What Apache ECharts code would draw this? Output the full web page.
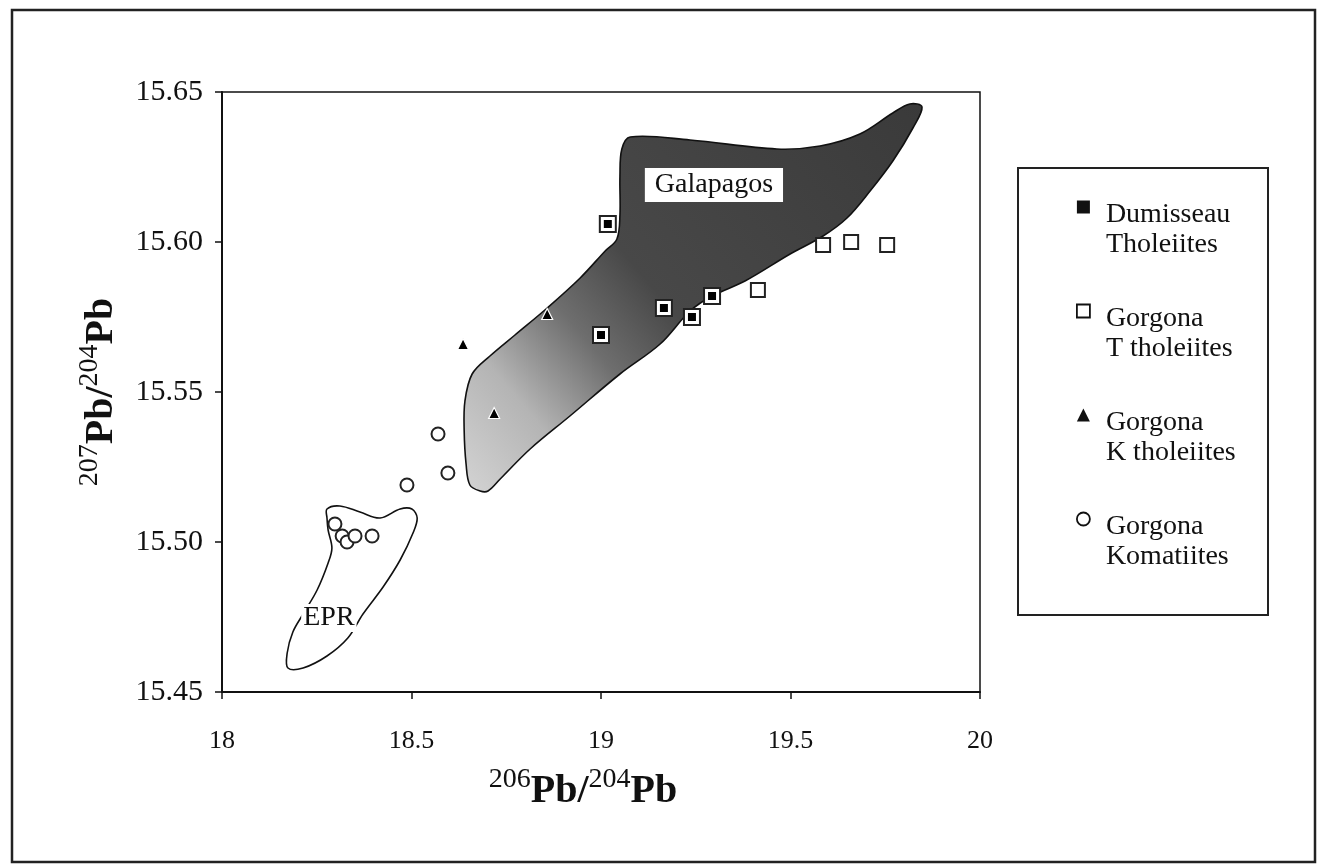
<!DOCTYPE html>
<html>
<head>
<meta charset="utf-8">
<script src="https://cdn.jsdelivr.net/npm/echarts@6/dist/echarts.min.js"></script>
</head>
<body style="margin:0;background:#fff">
<div id="main" style="width:1320px;height:865px;"></div>
<script>
// 206Pb/204Pb , 207Pb/204Pb
var dumisseau = [[19.018,15.606],[19.166,15.578],[19.293,15.582],[19.240,15.575],[19.000,15.569]];
var gorgonaT = [[19.586,15.599],[19.660,15.600],[19.755,15.599],[19.414,15.584]];
var gorgonaK = [[18.858,15.576],[18.636,15.566],[18.718,15.543]];
var komatiites = [[18.570,15.536],[18.596,15.523],[18.488,15.519],[18.298,15.506],[18.317,15.502],
  [18.330,15.500],[18.351,15.502],[18.396,15.502]];

// outline of the fields
var galapagos = [[18.681,15.517],[18.654,15.519],[18.644,15.526],[18.639,15.537],[18.641,15.547],
  [18.660,15.556],[18.707,15.562],[18.773,15.569],[18.858,15.578],[18.945,15.588],[19.011,15.597],
  [19.042,15.601],[19.050,15.609],[19.050,15.622],[19.055,15.631],[19.077,15.635],[19.235,15.634],
  [19.464,15.631],[19.578,15.632],[19.683,15.636],[19.770,15.643],[19.815,15.646],[19.847,15.645],
  [19.823,15.638],[19.770,15.627],[19.710,15.617],[19.649,15.608],[19.586,15.602],[19.499,15.596],
  [19.380,15.587],[19.293,15.582],[19.235,15.577],[19.156,15.566],[19.050,15.556],[18.918,15.542],
  [18.813,15.531],[18.734,15.521],[18.702,15.517]];
var epr = [[18.277,15.511],[18.311,15.512],[18.364,15.510],[18.417,15.508],[18.470,15.511],
  [18.501,15.511],[18.515,15.508],[18.504,15.503],[18.470,15.494],[18.425,15.485],[18.372,15.476],
  [18.332,15.468],[18.277,15.462],[18.214,15.458],[18.174,15.458],[18.172,15.463],[18.187,15.470],
  [18.214,15.476],[18.251,15.484],[18.280,15.493],[18.290,15.498],[18.280,15.504],[18.277,15.508]];
var fieldLabels = [['Galapagos',[19.298,15.619]],['EPR',[18.282,15.4747]]];

var serif = 'Liberation Serif';
var myChart = echarts.init(document.getElementById('main'));

function field(points, fill, label) {
  return function (params, api) {
    return {
      type: 'group',
      children: [{
        type: 'polygon',
        shape: { points: points.map(function (p) { return api.coord(p); }), smooth: 0.35 },
        style: { fill: fill, stroke: '#111', lineWidth: 1.6 }
      }, {
        type: 'text',
        x: api.coord(label[1])[0], y: api.coord(label[1])[1],
        style: {
          text: label[0], font: '28px "Liberation Serif"', fill: '#111',
          align: 'center', verticalAlign: 'middle', backgroundColor: '#fff',
          padding: label[0] === 'EPR' ? [0, 2] : [3, 10]
        },
        z2: 10
      }]
    };
  };
}

var galFill = new echarts.graphic.LinearGradient(0, 1, 1, 0, [
  { offset: 0, color: '#d4d4d4' },
  { offset: 0.17, color: '#b4b4b4' },
  { offset: 0.32, color: '#6e6e6e' },
  { offset: 0.46, color: '#484848' },
  { offset: 1, color: '#3a3a3a' }
]);

var nameRich = {
  b: { fontFamily: serif, fontSize: 40, fontWeight: 'bold', color: '#111', lineHeight: 46, verticalAlign: 'bottom' },
  s: { fontFamily: serif, fontSize: 28, color: '#111', lineHeight: 46, verticalAlign: 'top' }
};

myChart.setOption({
  animation: false,
  graphic: [{
    type: 'rect', shape: { x: 12, y: 10, width: 1303, height: 852 },
    style: { fill: 'none', stroke: '#222', lineWidth: 2.5 }
  }, {
    type: 'rect', shape: { x: 1018, y: 168, width: 250, height: 447 },
    style: { fill: 'none', stroke: '#222', lineWidth: 2 }
  }],
  grid: { left: 222, top: 92, width: 758, height: 600, show: true, borderColor: '#111', borderWidth: 1.5 },
  xAxis: {
    type: 'value', min: 18, max: 20, interval: 0.5,
    name: '{s|206}{b|Pb/}{s|204}{b|Pb}', nameLocation: 'middle', nameGap: 74,
    nameTextStyle: { padding: [0, 36, 0, 0], rich: nameRich },
    axisLine: { lineStyle: { color: '#111', width: 2 } },
    axisTick: { length: 7, lineStyle: { color: '#111', width: 1.5 } },
    axisLabel: { fontFamily: serif, color: '#111', fontSize: 26, margin: 36 },
    splitLine: { show: false }
  },
  yAxis: {
    type: 'value', min: 15.45, max: 15.65, interval: 0.05,
    name: '{s|207}{b|Pb/}{s|204}{b|Pb}', nameLocation: 'middle', nameGap: 100,
    nameTextStyle: { rich: nameRich },
    axisLine: { lineStyle: { color: '#111', width: 2 } },
    axisTick: { length: 7, lineStyle: { color: '#111', width: 1.5 } },
    axisLabel: {
      fontFamily: serif, color: '#111', fontSize: 30, margin: 19,
      formatter: function (v) { return v.toFixed(2); }
    },
    splitLine: { show: false }
  },
  legend: {
    orient: 'vertical', left: 1076, top: 172, padding: 0, itemGap: 17,
    itemWidth: 13, itemHeight: 13,
    formatter: function (name) {
      var p = name.split('\n');
      return '{e| }\n{t|' + p[0] + '}\n{t|' + p[1] + '}';
    },
    textStyle: {
      padding: [0, 0, 0, 11],
      rich: {
        e: { fontSize: 10, lineHeight: 46 },
        t: { fontFamily: serif, fontSize: 28, lineHeight: 30, color: '#111' }
      }
    },
    data: [
      { name: 'Dumisseau\nTholeiites', icon: 'rect', itemStyle: { color: '#111', borderWidth: 0 } },
      { name: 'Gorgona\nT tholeiites', icon: 'rect', itemStyle: { color: '#fff', borderColor: '#111', borderWidth: 1.8 } },
      { name: 'Gorgona\nK tholeiites', icon: 'triangle', itemStyle: { color: '#111', borderWidth: 0 } },
      { name: 'Gorgona\nKomatiites', icon: 'circle', itemStyle: { color: '#fff', borderColor: '#111', borderWidth: 1.8 } }
    ]
  },
  series: [{
    type: 'custom', name: 'Galapagos', data: [[0, 0]], z: 1, silent: true,
    renderItem: field(galapagos, galFill, fieldLabels[0])
  }, {
    type: 'custom', name: 'EPR', data: [[0, 0]], z: 1, silent: true,
    renderItem: field(epr, 'none', fieldLabels[1])
  }, {
    type: 'scatter', name: 'Dumisseau\nTholeiites', data: dumisseau, z: 3,
    symbol: 'rect', symbolSize: 16,
    itemStyle: { color: '#fff', borderColor: '#222', borderWidth: 2, opacity: 1 }
  }, {
    type: 'scatter', name: 'Dumisseau inner', data: dumisseau, z: 4,
    symbol: 'rect', symbolSize: 8, itemStyle: { color: '#000', opacity: 1 }
  }, {
    type: 'scatter', name: 'Gorgona\nT tholeiites', data: gorgonaT, z: 3,
    symbol: 'rect', symbolSize: 14,
    itemStyle: { color: '#fff', borderColor: '#222', borderWidth: 2, opacity: 1 }
  }, {
    type: 'scatter', name: 'Gorgona\nK tholeiites', data: gorgonaK, z: 3,
    symbol: 'triangle', symbolSize: 11,
    itemStyle: { color: '#000', borderColor: '#fff', borderWidth: 1.2, opacity: 1 }
  }, {
    type: 'scatter', name: 'Gorgona\nKomatiites', data: komatiites, z: 3,
    symbol: 'circle', symbolSize: 13,
    itemStyle: { color: '#fff', borderColor: '#222', borderWidth: 2, opacity: 1 }
  }]
});
</script>
</body>
</html>
